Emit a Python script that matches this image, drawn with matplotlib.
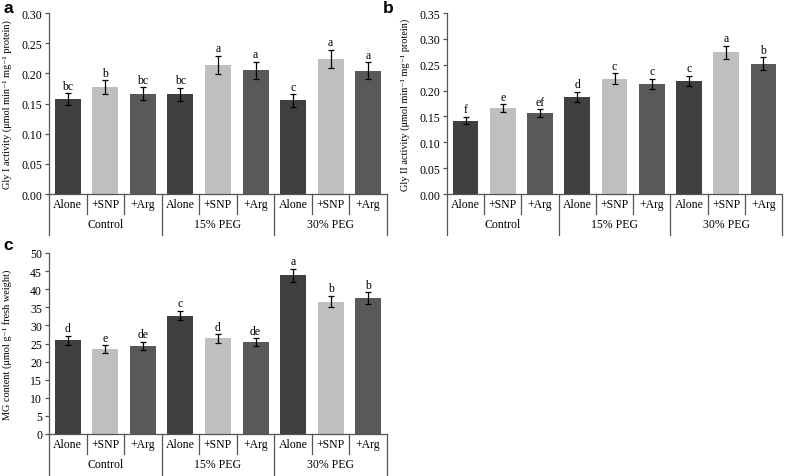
import matplotlib
matplotlib.use("Agg")
import matplotlib.pyplot as plt
import matplotlib.transforms as mtransforms

plt.rcParams['font.family'] = ['Liberation Serif', 'DejaVu Serif']

categories = ["Alone", "+SNP", "+Arg"] * 3
groups = ["Control", "15% PEG", "30% PEG"]
bar_colors = ["#404040", "#bfbfbf", "#595959"] * 3

gly1 = [0.157, 0.177, 0.166, 0.165, 0.214, 0.205, 0.155, 0.224, 0.204]
gly1_err = [0.010, 0.012, 0.011, 0.011, 0.015, 0.014, 0.010, 0.015, 0.014]
gly1_let = ["bc", "b", "bc", "bc", "a", "a", "c", "a", "a"]

gly2 = [0.142, 0.166, 0.156, 0.188, 0.223, 0.213, 0.219, 0.274, 0.252]
gly2_err = [0.007, 0.008, 0.008, 0.010, 0.011, 0.010, 0.010, 0.013, 0.012]
gly2_let = ["f", "e", "ef", "d", "c", "c", "c", "a", "b"]

mg = [25.9, 23.4, 24.4, 32.7, 26.4, 25.4, 43.8, 36.6, 37.5]
mg_err = [1.2, 1.1, 1.1, 1.3, 1.2, 1.1, 1.8, 1.6, 1.6]
mg_let = ["d", "e", "de", "c", "d", "de", "a", "b", "b"]

W, H = 787, 477
fig = plt.figure(figsize=(W / 100, H / 100), dpi=100)


def make_ax(l, r, t, b):
    return fig.add_axes([l / W, 1 - b / H, (r - l) / W, (b - t) / H])


def panel(ax, vals, errs, lets, ymax, step, fmt, ylabel, letter, letter_xy, ylabel_x):
    x = list(range(len(vals)))
    ax.bar(x, vals, width=0.69, color=bar_colors, yerr=errs, capsize=2.3,
           error_kw=dict(ecolor="black", elinewidth=0.9, capthick=0.9), zorder=2)
    off = ymax * 0.008
    for xi, v, e, s in zip(x, vals, errs, lets):
        ax.text(xi, v + e + off, s, ha="center", va="bottom", fontsize=8.5)
    ax.set_xlim(-0.5, len(vals) - 0.5)
    ax.set_ylim(0, ymax)
    ticks = [i * step for i in range(int(round(ymax / step)) + 1)]
    ax.set_yticks(ticks)
    ax.set_yticklabels([fmt.format(t) for t in ticks], fontsize=8.5)
    ax.set_xticks([])
    for s in ["top", "right", "bottom"]:
        ax.spines[s].set_visible(False)
    ax.spines["left"].set_color("#555555")
    ax.spines["left"].set_linewidth(0.9)
    ax.tick_params(axis="y", direction="out", length=3, width=0.9, color="#555555", pad=2)
    ax.set_ylabel(ylabel, fontsize=7.4)
    ax.yaxis.set_label_coords(ylabel_x, 0.5,
                              transform=mtransforms.blended_transform_factory(fig.transFigure, ax.transAxes))
    # category axis
    trans = mtransforms.blended_transform_factory(ax.transData, ax.transAxes)
    hpx = ax.get_position().height * H
    r1 = -20.0 / hpx
    r2 = -41.0 / hpx
    lc = "#555555"
    ax.plot([-0.5, len(vals) - 0.5], [0, 0], transform=trans, color=lc, lw=0.9, clip_on=False)
    for i in range(len(vals) + 1):
        xb = i - 0.5
        bottom = r2 if i % 3 == 0 else r1
        ax.plot([xb, xb], [0, bottom], transform=trans, color=lc, lw=0.9, clip_on=False)
    for i, c in enumerate(categories):
        ax.text(i, r1 / 2, c, transform=trans, ha="center", va="center", fontsize=8.5)
    for g, name in enumerate(groups):
        ax.text(3 * g + 1, (r1 + r2) / 2, name, transform=trans, ha="center", va="center", fontsize=8.5)
    fig.text(letter_xy[0] / W, 1 - letter_xy[1] / H, letter, fontsize=12.5, fontweight="bold",
             family=["Liberation Sans", "DejaVu Sans"], ha="left", va="baseline")


ax_a = make_ax(49, 387, 14, 195)
panel(ax_a, gly1, gly1_err, gly1_let, 0.30, 0.05, "{:.2f}",
      "Gly I activity (μmol min⁻¹ mg⁻¹ protein)", "a", (3, 13), 12 / W)

ax_b = make_ax(447, 782, 14, 195)
panel(ax_b, gly2, gly2_err, gly2_let, 0.35, 0.05, "{:.2f}",
      "Gly II activity (μmol min⁻¹ mg⁻¹ protein)", "b", (383, 13), 410 / W)

ax_c = make_ax(49, 387, 254, 435)
panel(ax_c, mg, mg_err, mg_let, 50, 5, "{:.0f}",
      "MG content (μmol g⁻¹ fresh weight)", "c", (3, 250), 12 / W)

fig.savefig("out.png", dpi=100)
